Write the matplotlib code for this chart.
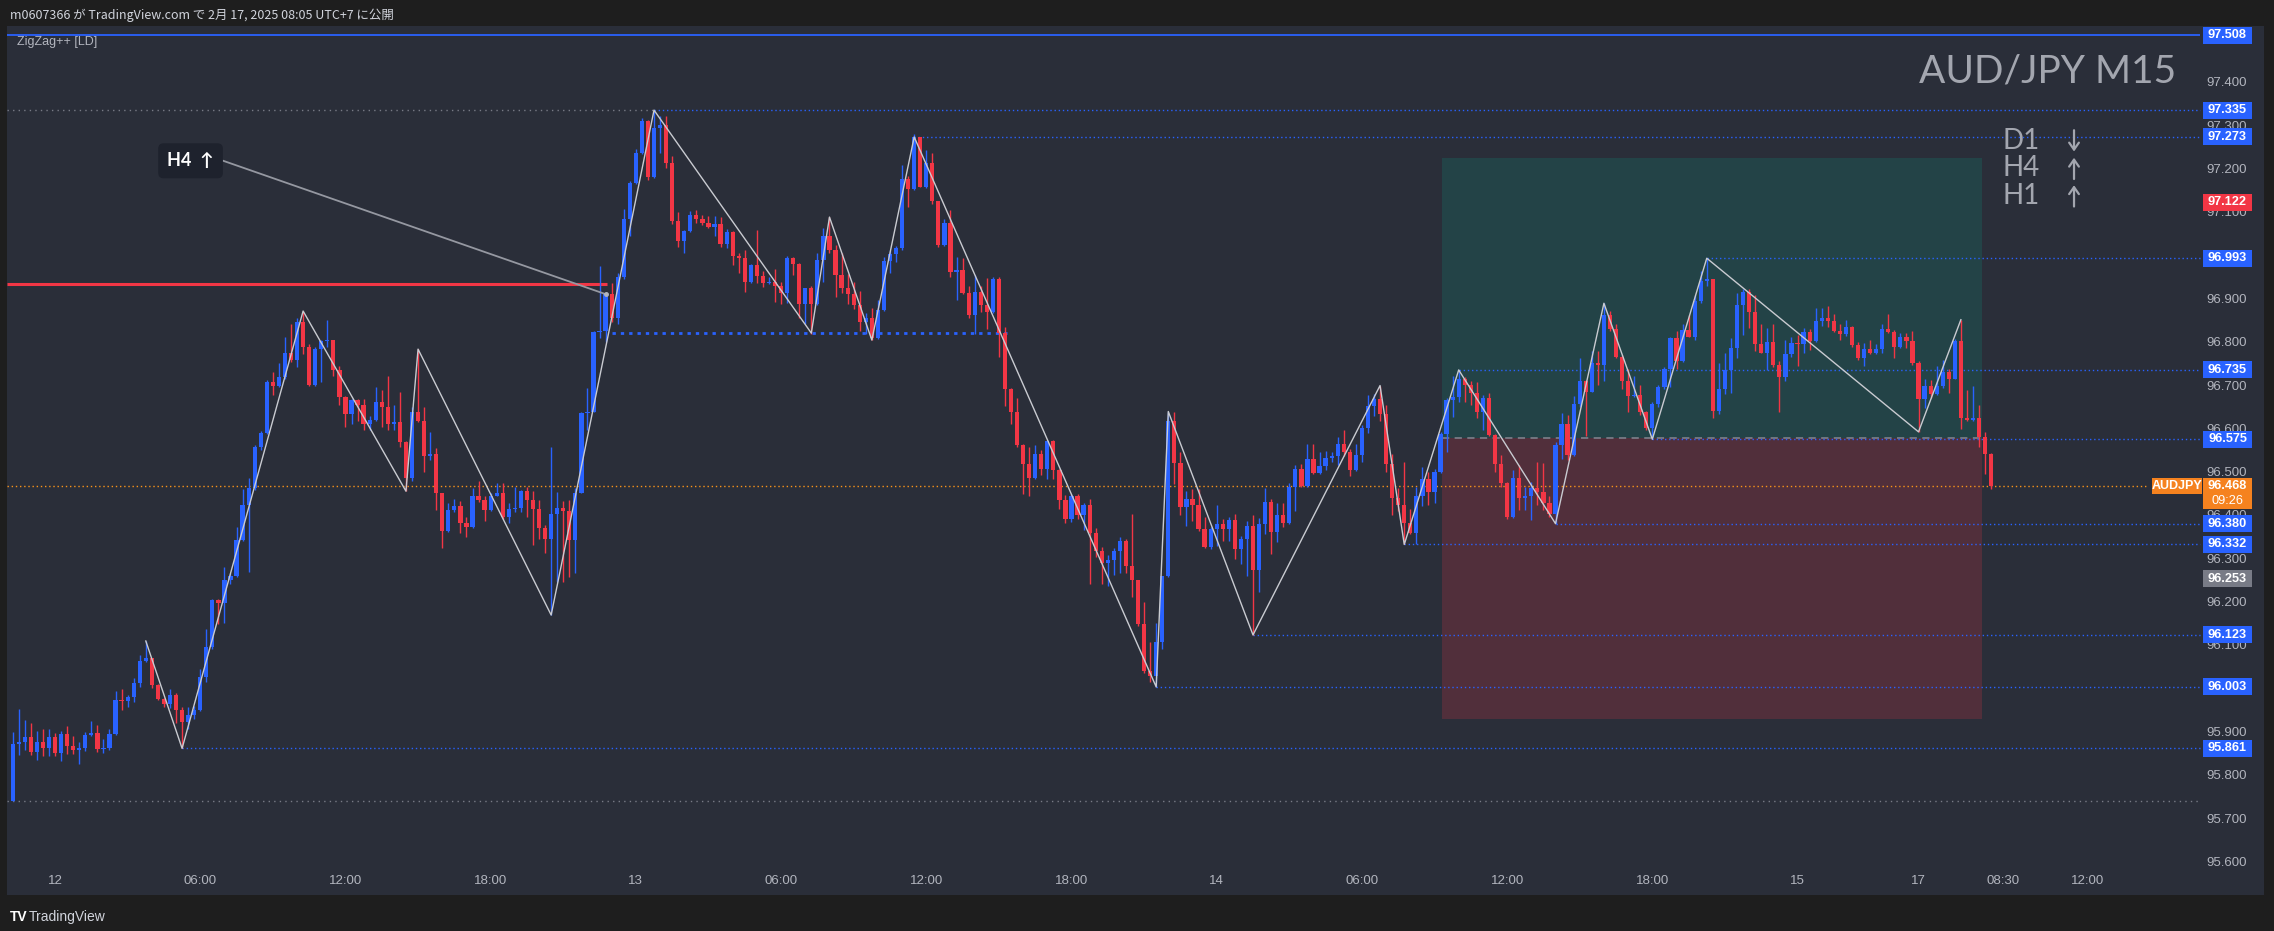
import numpy as np
import matplotlib
matplotlib.use("Agg")
import matplotlib.pyplot as plt
from matplotlib import transforms
from matplotlib.patches import Rectangle

plt.rcParams["font.family"] = ["Liberation Sans", "DejaVu Sans"]

# ===============================
# data (AUDJPY M15)
# ===============================
first_open = 95.740
closes = [95.871, 95.876, 95.887, 95.853, 95.876, 95.862, 95.887, 95.850, 95.894, 95.867,
          95.857, 95.862, 95.892, 95.896, 95.860, 95.862, 95.894, 95.973, 95.971, 95.980,
          96.012, 96.063, 96.070, 96.007, 95.975, 95.964, 95.984, 95.950, 95.922, 95.938,
          95.950, 96.026, 96.095, 96.203, 96.197, 96.251, 96.259, 96.342, 96.422, 96.463,
          96.556, 96.589, 96.707, 96.699, 96.718, 96.775, 96.758, 96.845, 96.787, 96.701,
          96.784, 96.801, 96.804, 96.734, 96.673, 96.634, 96.665, 96.654, 96.610, 96.620,
          96.660, 96.649, 96.610, 96.614, 96.569, 96.486, 96.637, 96.616, 96.536, 96.540,
          96.450, 96.362, 96.412, 96.420, 96.381, 96.372, 96.445, 96.434, 96.412, 96.445,
          96.450, 96.396, 96.414, 96.415, 96.455, 96.434, 96.414, 96.370, 96.344, 96.403,
          96.415, 96.410, 96.342, 96.450, 96.636, 96.639, 96.822, 96.825, 96.910, 96.856,
          96.949, 97.083, 97.166, 97.236, 97.310, 97.181, 97.294, 97.300, 97.212, 97.078,
          97.033, 97.056, 97.093, 97.083, 97.075, 97.064, 97.071, 97.026, 97.054, 96.998,
          96.993, 96.938, 96.977, 96.951, 96.935, 96.938, 96.930, 96.913, 96.993, 96.980,
          96.887, 96.925, 96.887, 96.988, 97.044, 97.013, 96.954, 96.925, 96.911, 96.885,
          96.845, 96.856, 96.809, 96.873, 96.987, 97.002, 97.017, 97.176, 97.153, 97.274,
          97.158, 97.212, 97.124, 97.024, 97.075, 96.961, 96.966, 96.913, 96.863, 96.915,
          96.885, 96.868, 96.946, 96.820, 96.691, 96.637, 96.561, 96.517, 96.486, 96.541,
          96.507, 96.572, 96.505, 96.435, 96.391, 96.445, 96.401, 96.422, 96.358, 96.317,
          96.290, 96.295, 96.317, 96.341, 96.282, 96.249, 96.148, 96.040, 96.029, 96.107,
          96.259, 96.616, 96.520, 96.419, 96.437, 96.424, 96.368, 96.326, 96.367, 96.379,
          96.368, 96.388, 96.321, 96.344, 96.375, 96.272, 96.379, 96.429, 96.360, 96.399,
          96.381, 96.465, 96.507, 96.468, 96.530, 96.496, 96.512, 96.532, 96.536, 96.564,
          96.546, 96.505, 96.538, 96.600, 96.651, 96.668, 96.634, 96.517, 96.439, 96.422,
          96.381, 96.358, 96.445, 96.484, 96.453, 96.499, 96.587, 96.665, 96.672, 96.713,
          96.701, 96.682, 96.639, 96.670, 96.585, 96.517, 96.474, 96.396, 96.486, 96.440,
          96.445, 96.463, 96.453, 96.427, 96.403, 96.561, 96.610, 96.538, 96.656, 96.709,
          96.685, 96.752, 96.747, 96.863, 96.830, 96.766, 96.709, 96.675, 96.678, 96.639,
          96.600, 96.657, 96.696, 96.737, 96.809, 96.755, 96.828, 96.812, 96.895, 96.941,
          96.944, 96.641, 96.690, 96.735, 96.785, 96.885, 96.916, 96.868, 96.794, 96.775,
          96.799, 96.747, 96.719, 96.771, 96.797, 96.794, 96.823, 96.802, 96.849, 96.856,
          96.848, 96.825, 96.817, 96.835, 96.792, 96.763, 96.783, 96.773, 96.783, 96.830,
          96.823, 96.789, 96.812, 96.801, 96.752, 96.667, 96.698, 96.680, 96.698, 96.730,
          96.714, 96.802, 96.623, 96.620, 96.623, 96.580, 96.541, 96.468]
highs = [95.899, 95.952, 95.927, 95.920, 95.901, 95.906, 95.906, 95.896, 95.901, 95.913,
         95.890, 95.876, 95.899, 95.924, 95.915, 95.883, 95.906, 95.994, 95.998, 95.984,
         96.024, 96.077, 96.109, 96.070, 96.010, 95.977, 95.998, 95.989, 95.957, 95.957,
         95.959, 96.044, 96.137, 96.205, 96.205, 96.279, 96.267, 96.373, 96.461, 96.486,
         96.561, 96.595, 96.711, 96.730, 96.750, 96.811, 96.840, 96.854, 96.871, 96.796,
         96.789, 96.804, 96.850, 96.805, 96.745, 96.674, 96.668, 96.668, 96.668, 96.628,
         96.696, 96.688, 96.722, 96.655, 96.683, 96.570, 96.650, 96.783, 96.650, 96.592,
         96.554, 96.450, 96.427, 96.437, 96.432, 96.396, 96.463, 96.479, 96.443, 96.450,
         96.474, 96.474, 96.427, 96.465, 96.458, 96.465, 96.455, 96.434, 96.376, 96.556,
         96.453, 96.432, 96.434, 96.463, 96.639, 96.694, 96.825, 96.974, 96.916, 96.935,
         96.959, 97.106, 97.171, 97.246, 97.316, 97.313, 97.335, 97.321, 97.321, 97.228,
         97.099, 97.059, 97.101, 97.104, 97.093, 97.091, 97.090, 97.088, 97.060, 97.057,
         97.006, 97.013, 96.980, 97.059, 96.964, 96.949, 96.969, 96.938, 96.997, 96.995,
         96.982, 96.925, 96.928, 97.006, 97.062, 97.088, 97.023, 97.006, 96.956, 96.938,
         96.918, 96.866, 96.879, 96.897, 96.995, 97.011, 97.021, 97.209, 97.184, 97.279,
         97.274, 97.243, 97.235, 97.126, 97.083, 97.104, 96.995, 96.993, 96.930, 96.954,
         96.928, 96.947, 96.949, 96.949, 96.835, 96.693, 96.670, 96.563, 96.556, 96.561,
         96.551, 96.574, 96.574, 96.506, 96.446, 96.448, 96.448, 96.427, 96.437, 96.370,
         96.326, 96.308, 96.324, 96.350, 96.344, 96.403, 96.251, 96.200, 96.107, 96.151,
         96.259, 96.639, 96.639, 96.546, 96.455, 96.461, 96.461, 96.396, 96.372, 96.424,
         96.391, 96.396, 96.403, 96.352, 96.386, 96.401, 96.393, 96.463, 96.437, 96.427,
         96.427, 96.474, 96.515, 96.517, 96.564, 96.564, 96.546, 96.548, 96.546, 96.579,
         96.597, 96.553, 96.564, 96.608, 96.677, 96.680, 96.699, 96.654, 96.541, 96.463,
         96.523, 96.414, 96.465, 96.510, 96.499, 96.507, 96.592, 96.670, 96.721, 96.735,
         96.719, 96.709, 96.706, 96.678, 96.682, 96.587, 96.538, 96.476, 96.505, 96.515,
         96.465, 96.476, 96.523, 96.520, 96.443, 96.569, 96.636, 96.631, 96.675, 96.763,
         96.711, 96.778, 96.778, 96.889, 96.871, 96.840, 96.770, 96.737, 96.722, 96.701,
         96.641, 96.660, 96.701, 96.742, 96.811, 96.825, 96.840, 96.861, 96.907, 96.964,
         96.993, 96.944, 96.752, 96.773, 96.809, 96.913, 96.923, 96.923, 96.907, 96.840,
         96.832, 96.840, 96.755, 96.804, 96.812, 96.815, 96.833, 96.830, 96.879, 96.879,
         96.882, 96.864, 96.840, 96.851, 96.837, 96.799, 96.797, 96.804, 96.796, 96.840,
         96.864, 96.827, 96.820, 96.820, 96.825, 96.755, 96.713, 96.711, 96.745, 96.758,
         96.737, 96.806, 96.851, 96.688, 96.698, 96.654, 96.592, 96.543]
lows = [95.740, 95.846, 95.857, 95.846, 95.834, 95.843, 95.843, 95.843, 95.832, 95.848,
        95.848, 95.825, 95.855, 95.890, 95.853, 95.850, 95.857, 95.892, 95.950, 95.957,
        95.968, 96.003, 96.060, 96.000, 95.972, 95.957, 95.955, 95.920, 95.861, 95.906,
        95.929, 95.948, 96.014, 96.090, 96.148, 96.151, 96.241, 96.257, 96.340, 96.269,
        96.457, 96.551, 96.587, 96.676, 96.696, 96.713, 96.753, 96.742, 96.771, 96.698,
        96.698, 96.706, 96.789, 96.722, 96.654, 96.603, 96.610, 96.618, 96.597, 96.597,
        96.618, 96.603, 96.597, 96.597, 96.556, 96.455, 96.479, 96.615, 96.499, 96.526,
        96.412, 96.324, 96.360, 96.406, 96.358, 96.350, 96.370, 96.430, 96.386, 96.410,
        96.443, 96.391, 96.381, 96.407, 96.407, 96.396, 96.331, 96.344, 96.313, 96.169,
        96.246, 96.246, 96.257, 96.265, 96.450, 96.597, 96.637, 96.809, 96.799, 96.845,
        96.840, 96.946, 97.044, 97.164, 97.233, 97.173, 97.178, 97.236, 97.202, 97.071,
        97.019, 97.006, 97.054, 97.075, 97.070, 97.062, 97.044, 97.019, 97.016, 96.977,
        96.959, 96.916, 96.936, 96.936, 96.926, 96.933, 96.892, 96.887, 96.889, 96.954,
        96.856, 96.842, 96.817, 96.885, 96.938, 97.006, 96.904, 96.913, 96.887, 96.876,
        96.825, 96.817, 96.804, 96.806, 96.870, 96.959, 96.985, 97.013, 97.112, 97.150,
        97.157, 97.155, 97.119, 97.018, 97.021, 96.949, 96.897, 96.910, 96.854, 96.817,
        96.868, 96.830, 96.866, 96.765, 96.651, 96.610, 96.556, 96.448, 96.443, 96.484,
        96.492, 96.484, 96.484, 96.414, 96.381, 96.383, 96.391, 96.365, 96.241, 96.303,
        96.241, 96.236, 96.262, 96.267, 96.267, 96.210, 96.143, 96.035, 96.014, 96.003,
        96.091, 96.257, 96.471, 96.401, 96.375, 96.386, 96.362, 96.324, 96.321, 96.329,
        96.339, 96.339, 96.298, 96.286, 96.259, 96.123, 96.223, 96.355, 96.310, 96.337,
        96.372, 96.379, 96.410, 96.465, 96.465, 96.494, 96.494, 96.505, 96.523, 96.515,
        96.536, 96.491, 96.502, 96.523, 96.589, 96.628, 96.618, 96.499, 96.399, 96.410,
        96.332, 96.355, 96.334, 96.420, 96.424, 96.427, 96.497, 96.546, 96.627, 96.660,
        96.660, 96.654, 96.623, 96.597, 96.582, 96.499, 96.465, 96.391, 96.394, 96.412,
        96.412, 96.389, 96.424, 96.412, 96.396, 96.380, 96.530, 96.527, 96.536, 96.650,
        96.582, 96.683, 96.701, 96.709, 96.825, 96.763, 96.690, 96.637, 96.672, 96.631,
        96.596, 96.575, 96.650, 96.692, 96.696, 96.737, 96.753, 96.810, 96.804, 96.890,
        96.928, 96.623, 96.634, 96.680, 96.682, 96.763, 96.815, 96.833, 96.778, 96.773,
        96.734, 96.742, 96.637, 96.709, 96.765, 96.744, 96.775, 96.781, 96.800, 96.837,
        96.835, 96.823, 96.804, 96.813, 96.789, 96.758, 96.744, 96.771, 96.771, 96.775,
        96.820, 96.763, 96.786, 96.786, 96.747, 96.592, 96.647, 96.670, 96.678, 96.693,
        96.682, 96.713, 96.598, 96.618, 96.618, 96.556, 96.494, 96.460]
# forex bars open at the previous bar's close
opens = [first_open] + closes[:-1]

# ZigZag++ pivots (bar index, price)
zz_bars = [22, 28, 48, 65, 67, 89, 106, 132, 135, 142, 149, 189, 191, 205, 226, 230,
           239, 255, 263, 271, 280, 315, 322]
zz_prices = [96.109, 95.861, 96.871, 96.455, 96.783, 96.169, 97.335, 96.820, 97.088,
             96.804, 97.273, 96.003, 96.639, 96.123, 96.699, 96.332, 96.735, 96.380,
             96.889, 96.575, 96.993, 96.592, 96.851]

# pivot levels extended to the price scale (price, start bar)
level_prices = [97.335, 97.273, 96.993, 96.735, 96.575, 96.380, 96.332, 96.123, 96.003, 95.861]
level_bars = [106, 149, 280, 239, 271, 255, 230, 205, 189, 28]

# price scale labels
label_prices = [97.508, 97.335, 97.273, 97.122, 96.993, 96.735, 96.575, 96.380, 96.332,
                96.253, 96.123, 96.003, 95.861]
label_kinds = ["blue", "blue", "blue", "red", "blue", "blue", "blue", "blue", "blue",
               "grey", "blue", "blue", "blue"]
last_price = 96.468
countdown = "09:26"

price_ticks = [95.6, 95.7, 95.8, 95.9, 96.0, 96.1, 96.2, 96.3, 96.4, 96.5,
               96.6, 96.7, 96.8, 96.9, 97.0, 97.1, 97.2, 97.3, 97.4]
time_tick_bars = [7, 31, 55, 79, 103, 127, 151, 175, 199, 223, 247, 271, 295, 315, 329, 343]
time_tick_labels = ["12", "06:00", "12:00", "18:00", "13", "06:00", "12:00", "18:00",
                    "14", "06:00", "12:00", "18:00", "15", "17", "08:30", "12:00"]

# long position tool
pos_start, pos_end = 236.2, 325.5
pos_entry, pos_target, pos_stop = 96.577, 97.224, 95.929

# other drawings
red_level, red_level_end = 96.933, 98.2
h4_level, h4_start, h4_end = 96.820, 99, 165
prev_high, prev_high_end = 97.335, 106
prev_low = 95.740
top_level = 97.508
h4_anchor_bar, h4_anchor_price = 98, 96.910
trend_tf = ["D1", "H4", "H1"]
trend_up = [False, True, True]

# ===============================
# colours / layout
# ===============================
UP = "#2962ff"
DOWN = "#f23645"
PANE = "#2a2e39"
OUTER = "#1e1e1e"
TXT = "#b2b5be"
LABEL_COL = {"blue": "#2962ff", "red": "#f23645", "grey": "#787b86"}

W, H = 2274, 931
PX_PER_PRICE = 433.0          # vertical pixels per 1.000 JPY
L_PX, R_PX, T_PX, B_PX = 7, 2264, 26, 895
LINE_END = 361.5              # bar where lines meet the price scale

fig = plt.figure(figsize=(W / 100, H / 100), dpi=100, facecolor=OUTER)
ax = fig.add_axes([L_PX / W, 1 - B_PX / H, (R_PX - L_PX) / W, (B_PX - T_PX) / H])
ax.set_facecolor(PANE)
ax.set_xlim(-0.94, 372.1)
ax.set_ylim(95.5224, 97.5293)
for s in ax.spines.values():
    s.set_visible(False)

# ===============================
# ticks
# ===============================
ax.set_yticks(price_ticks)
ax.set_yticklabels([f"{t:.3f}" for t in price_ticks])
ax.yaxis.tick_right()
ax.tick_params(axis="y", length=0, pad=-12.2, labelsize=9.5, labelcolor=TXT)
for t in ax.get_yticklabels():
    t.set_horizontalalignment("right")

ax.set_xticks(time_tick_bars)
ax.set_xticklabels(time_tick_labels)
ax.tick_params(axis="x", length=0, pad=-14.5, labelsize=9.5, labelcolor=TXT)

# ===============================
# position box (under candles)
# ===============================
ax.add_patch(Rectangle((pos_start, pos_entry), pos_end - pos_start, pos_target - pos_entry,
                       facecolor=(8 / 255, 153 / 255, 129 / 255, 0.2), edgecolor="none", zorder=1))
ax.add_patch(Rectangle((pos_start, pos_stop), pos_end - pos_start, pos_entry - pos_stop,
                       facecolor=(242 / 255, 54 / 255, 69 / 255, 0.2), edgecolor="none", zorder=1))
ax.hlines(pos_entry, pos_start, pos_end, colors="#787b86", lw=1.3, linestyles=(0, (4, 3)), zorder=2)

# ===============================
# horizontal lines
# ===============================
ax.hlines(top_level, -1, LINE_END, colors=UP, lw=1.3, zorder=2)
ax.hlines(prev_high, -1, prev_high_end, colors="#787b86", lw=1, linestyles=(0, (1, 3)), zorder=2)
ax.hlines(prev_low, -1, LINE_END, colors="#787b86", lw=1, linestyles=(0, (1, 3)), zorder=2)
for p, b in zip(level_prices, level_bars):
    ax.hlines(p, b, LINE_END, colors=UP, lw=1, linestyles=(0, (1, 2)), zorder=2)
ax.hlines(h4_level, h4_start, h4_end, colors=UP, lw=2, linestyles=(0, (1.2, 1.8)), zorder=2)
ax.hlines(last_price, -1, 353, colors="#f7931a", lw=1, linestyles=(0, (1, 2)), zorder=2)
ax.hlines(red_level, -1, red_level_end, colors=DOWN, lw=2.2, zorder=2)

# ===============================
# candles
# ===============================
o = np.array(opens)
c = np.array(closes)
h = np.array(highs)
l = np.array(lows)
idx = np.arange(len(c))
col = np.where(c >= o, UP, DOWN)
ax.vlines(idx, l, h, colors=col, lw=1, zorder=3)
body = np.maximum(np.abs(c - o), 0.0025)
ax.bar(idx, body, bottom=np.minimum(o, c), width=0.7, color=col, linewidth=0, zorder=4)

# zigzag
ax.plot(zz_bars, zz_prices, color="#c9cbd1", lw=1.0, zorder=5)

# ===============================
# H4 note with its pointer
# ===============================
ax.plot([34.8, h4_anchor_bar], [97.218, h4_anchor_price], color="#9598a1", lw=1.3, zorder=5)
ax.plot([h4_anchor_bar], [h4_anchor_price], "o", ms=2.5, color="#b2b5be", zorder=6)
ax.text(29.4, 97.218, "H4  \u2191", color="white", fontsize=13, fontweight="bold",
        family=["Lato", "DejaVu Sans"], ha="center", va="center", zorder=7,
        bbox=dict(boxstyle="round,pad=0.5,rounding_size=0.3", fc="#1e222d", ec="none"))

# ===============================
# symbol and trend panel
# ===============================
fig.text(2176 / W, 1 - 71 / H, "AUD/JPY M15", fontsize=28, color="#a3a6af",
         family=["Lato", "DejaVu Sans"], ha="right", va="center", zorder=7)
for k, (tf, upw) in enumerate(zip(trend_tf, trend_up)):
    yc = 97.264 - k * 0.0635
    ax.text(328.8, yc, tf, fontsize=20, color="#a3a6af", family=["Lato", "DejaVu Sans"],
            ha="left", va="center", zorder=7)
    top, bot = yc + 0.031, yc - 0.031
    tip, tail = (top, bot) if upw else (bot, top)
    ax.annotate("", xy=(340.7, tip), xytext=(340.7, tail),
                arrowprops=dict(arrowstyle="->,head_length=0.5,head_width=0.35",
                                color="#a3a6af", lw=1.6), zorder=7)

# ===============================
# price scale labels
# ===============================
bt = transforms.blended_transform_factory(ax.transAxes, ax.transData)
x0 = (2203 - L_PX) / (R_PX - L_PX)
bw = 49 / (R_PX - L_PX)
half = 8.5 / PX_PER_PRICE
for p, kind in zip(label_prices, label_kinds):
    ax.add_patch(Rectangle((x0, p - half), bw, 2 * half, transform=bt,
                           facecolor=LABEL_COL[kind], edgecolor="none", zorder=8, clip_on=False))
    ax.text(x0 + bw / 2, p, f"{p:.3f}", transform=bt, color="white", fontsize=9.2,
            fontweight="bold", ha="center", va="center", zorder=9)

# current price label
ORANGE = "#f5821f"
ax.add_patch(Rectangle((x0, last_price - 23.5 / PX_PER_PRICE), bw, 31 / PX_PER_PRICE, transform=bt,
                       facecolor=ORANGE, edgecolor="none", zorder=8, clip_on=False))
ax.text(x0 + bw / 2, last_price, f"{last_price:.3f}", transform=bt, color="white",
        fontsize=9.2, fontweight="bold", ha="center", va="center", zorder=9)
ax.text(x0 + bw / 2, last_price - 15.5 / PX_PER_PRICE, countdown, transform=bt, color="white",
        fontsize=9.2, ha="center", va="center", zorder=9)
xs = (2152 - L_PX) / (R_PX - L_PX)
ax.add_patch(Rectangle((xs, last_price - 8 / PX_PER_PRICE), 50 / (R_PX - L_PX), 16 / PX_PER_PRICE,
                       transform=bt, facecolor=ORANGE, edgecolor="none", zorder=8))
ax.text(xs + 25 / (R_PX - L_PX), last_price, "AUDJPY", transform=bt, color="white",
        fontsize=9, fontweight="bold", ha="center", va="center", zorder=9)

# ===============================
# header / footer
# ===============================
fig.text(10 / W, 1 - 15 / H, "m0607366 が TradingView.com で 2月 17, 2025 08:05 UTC+7 に公開",
         color="#d1d4dc", fontsize=9, family=["Noto Sans CJK JP", "DejaVu Sans"],
         ha="left", va="center")
fig.text(17 / W, 1 - 42 / H, "ZigZag++ [LD]", color=TXT, fontsize=9, ha="left", va="center")
fig.text(10 / W, 1 - 917 / H, "TV", color="white", fontsize=10, fontweight="bold",
         ha="left", va="center")
fig.text(29 / W, 1 - 917 / H, "TradingView", color="#d1d4dc", fontsize=10,
         ha="left", va="center")

fig.savefig("out.png", dpi=100, facecolor=OUTER)
